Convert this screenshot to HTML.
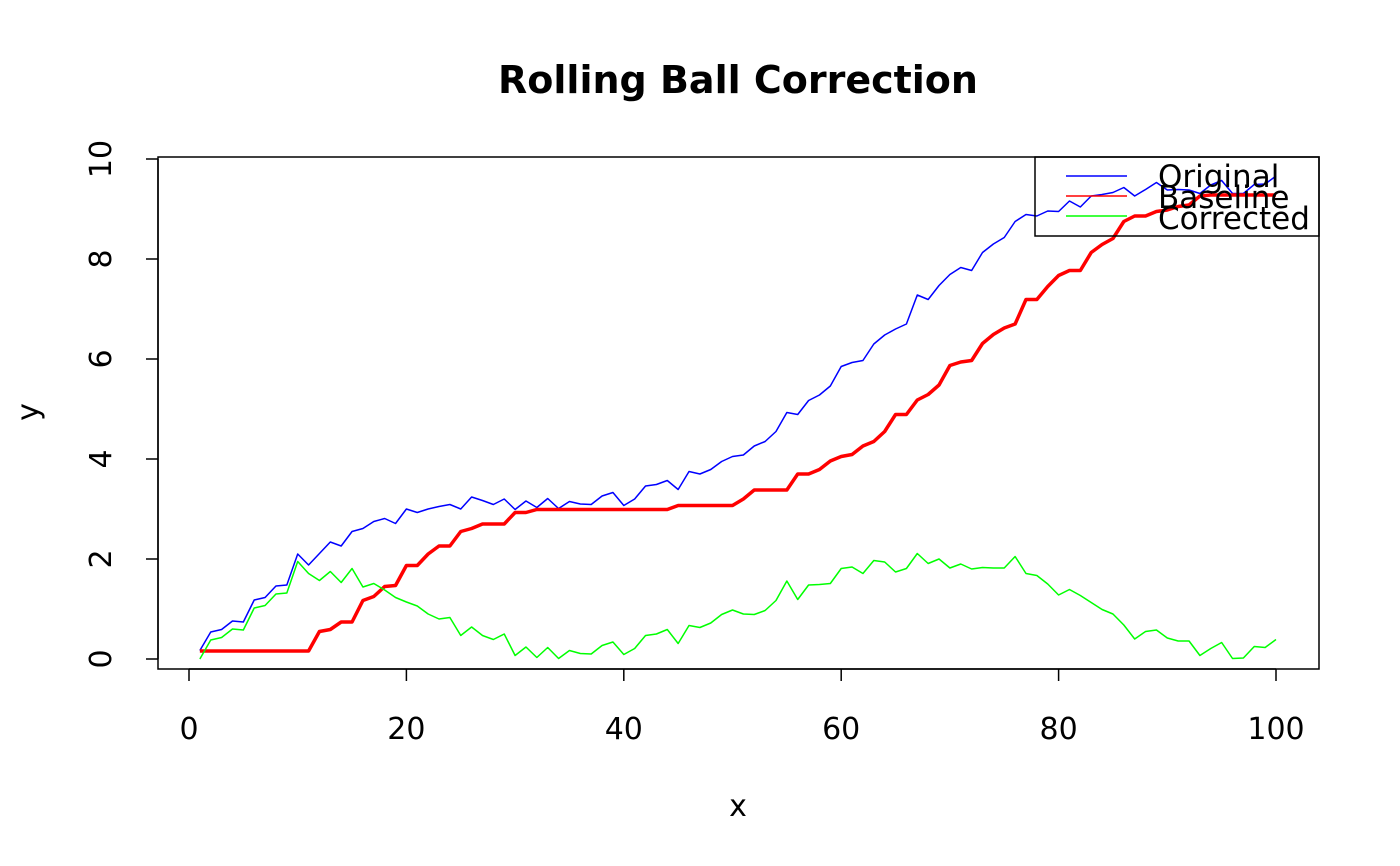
<!DOCTYPE html>
<html><head><meta charset="utf-8"><style>
html,body{margin:0;padding:0;background:#fff;}
svg{display:block;font-family:"DejaVu Sans","Liberation Sans",sans-serif;}
</style></head><body>
<svg id="chart" width="1400" height="866" viewBox="0 0 1400 866" xmlns="http://www.w3.org/2000/svg">
<rect width="1400" height="866" fill="#fff"/>
<text x="738" y="93" text-anchor="middle" font-size="38" font-weight="bold">Rolling Ball Correction</text>
<rect x="158" y="157" width="1161" height="512" fill="none" stroke="#000" stroke-width="1.5"/>
<g id="axes"></g>
<g id="series"></g>
<text x="738" y="816" text-anchor="middle" font-size="30">x</text>
<text transform="translate(38,412) rotate(-90)" text-anchor="middle" font-size="30">y</text>
<g>
<rect x="1035" y="157" width="284" height="79" fill="none" stroke="#000" stroke-width="1.5"/>
<line x1="1066" y1="176" x2="1127" y2="176" stroke="#0000ff" stroke-width="1.5"/>
<line x1="1066" y1="196" x2="1127" y2="196" stroke="#ff0000" stroke-width="1.5"/>
<line x1="1066" y1="216" x2="1127" y2="216" stroke="#00ff00" stroke-width="1.5"/>
<text x="1158" y="187" font-size="31">Original</text>
<text x="1158" y="208" font-size="31">Baseline</text>
<text x="1158" y="229" font-size="31">Corrected</text>
</g>
</svg>
<script>
const xTicks = [0, 20, 40, 60, 80, 100];
const yTicks = [0, 2, 4, 6, 8, 10];
const original = [0.17,0.54,0.59,0.76,0.74,1.18,1.23,1.46,1.48,2.10,1.88,2.11,2.34,2.26,2.55,2.61,2.75,2.81,2.71,3.00,2.93,3.00,3.05,3.09,3.00,3.24,3.17,3.09,3.20,2.99,3.16,3.03,3.21,3.01,3.15,3.10,3.09,3.26,3.33,3.07,3.20,3.46,3.49,3.57,3.39,3.75,3.70,3.79,3.95,4.05,4.08,4.26,4.35,4.55,4.93,4.89,5.17,5.28,5.46,5.85,5.93,5.97,6.30,6.48,6.60,6.70,7.28,7.19,7.47,7.69,7.83,7.77,8.13,8.30,8.43,8.75,8.89,8.86,8.96,8.95,9.16,9.04,9.26,9.29,9.33,9.43,9.26,9.39,9.53,9.38,9.39,9.38,9.31,9.48,9.57,9.31,9.31,9.49,9.50,9.66];
const baseline = [0.16,0.16,0.16,0.16,0.16,0.16,0.16,0.16,0.16,0.16,0.16,0.55,0.59,0.74,0.74,1.17,1.25,1.45,1.47,1.87,1.87,2.10,2.26,2.26,2.55,2.61,2.70,2.70,2.70,2.93,2.93,2.99,2.99,2.99,2.99,2.99,2.99,2.99,2.99,2.99,2.99,2.99,2.99,2.99,3.07,3.07,3.07,3.07,3.07,3.07,3.20,3.38,3.38,3.38,3.38,3.70,3.70,3.79,3.96,4.05,4.09,4.26,4.35,4.55,4.89,4.89,5.18,5.29,5.48,5.87,5.94,5.97,6.31,6.49,6.62,6.70,7.19,7.19,7.45,7.67,7.77,7.77,8.13,8.29,8.41,8.75,8.86,8.86,8.95,8.98,9.05,9.08,9.26,9.28,9.28,9.28,9.28,9.28,9.28,9.28];
const corrected = [0.00,0.38,0.43,0.60,0.58,1.02,1.07,1.30,1.32,1.95,1.71,1.57,1.75,1.53,1.81,1.44,1.51,1.38,1.23,1.14,1.06,0.90,0.80,0.83,0.47,0.64,0.47,0.39,0.50,0.07,0.24,0.03,0.23,0.01,0.17,0.11,0.10,0.27,0.34,0.09,0.21,0.47,0.50,0.59,0.31,0.67,0.63,0.72,0.89,0.98,0.90,0.89,0.97,1.17,1.56,1.19,1.48,1.49,1.51,1.81,1.84,1.71,1.97,1.94,1.74,1.81,2.11,1.91,2.00,1.82,1.90,1.80,1.83,1.82,1.82,2.05,1.71,1.67,1.50,1.28,1.39,1.27,1.13,0.99,0.90,0.68,0.40,0.55,0.58,0.42,0.36,0.36,0.07,0.21,0.33,0.01,0.02,0.25,0.23,0.39];

const NS = 'http://www.w3.org/2000/svg';
function sx(v){ return 189 + (v - 0) * (1276 - 189) / 100; }
function sy(v){ return 659 - v * 50; }
function mk(tag, attrs, parent){
  const e = document.createElementNS(NS, tag);
  for (const k in attrs) e.setAttribute(k, attrs[k]);
  parent.appendChild(e);
  return e;
}
const axes = document.getElementById('axes');
const xAxis = mk('line', {x1: sx(xTicks[0]), y1: 669, x2: sx(xTicks[xTicks.length-1]), y2: 669, stroke:'#000','stroke-width':1.5}, axes);


xTicks.forEach(t => {
  const tk = mk('line', {x1: sx(t), y1: 669, x2: sx(t), y2: 681, stroke:'#000','stroke-width':1.5}, axes);
  
  
  const lb = mk('text', {x: sx(t), y: 739, 'text-anchor':'middle', 'font-size':30}, axes);
  lb.textContent = t;
  
  
});
const yAxis = mk('line', {x1: 158, y1: sy(yTicks[0]), x2: 158, y2: sy(yTicks[yTicks.length-1]), stroke:'#000','stroke-width':1.5}, axes);


yTicks.forEach(t => {
  const tk = mk('line', {x1: 146, y1: sy(t), x2: 158, y2: sy(t), stroke:'#000','stroke-width':1.5}, axes);
  
  
  const lb = mk('text', {transform: 'translate(111,' + sy(t) + ') rotate(-90)', 'text-anchor':'middle', 'font-size':30}, axes);
  lb.textContent = t;
  
  
});
const series = document.getElementById('series');
function drawLine(vals, color, w, name){
  const pts = vals.map((v, i) => sx(i + 1).toFixed(2) + ',' + sy(v).toFixed(2)).join(' ');
  const pl = mk('polyline', {points: pts, fill:'none', stroke: color, 'stroke-width': w, 'stroke-linejoin':'round'}, series);
  
  
}
drawLine(original, '#0000ff', 1.5, 'original-line');
drawLine(baseline, '#ff0000', 3.5, 'baseline-line');
drawLine(corrected, '#00ff00', 1.5, 'corrected-line');
</script>
</body></html>
